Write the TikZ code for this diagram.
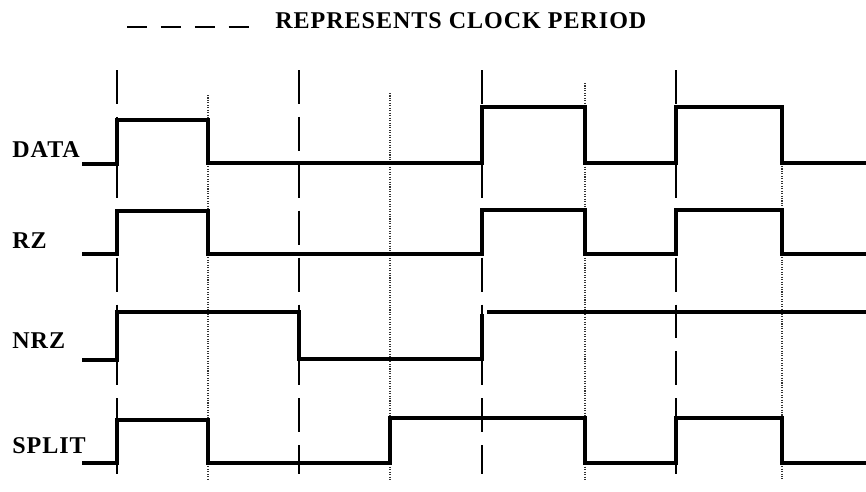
\documentclass[tikz,border=0pt]{standalone}
\usepackage{fontspec}
\setmainfont[LetterSpace=4]{Liberation Serif}

\begin{document}
\begin{tikzpicture}[
  x=0.02cm, y=-0.02cm,
  font=\fontsize{13.7}{16}\selectfont\bfseries,
  sig/.style={draw=black, line width=2.1pt},
  clk/.style={draw=black, line width=0.8pt, dash pattern=on 19.3pt off 7.4pt},
  half/.style={draw=black!80, line width=0.65pt, dash pattern=on 0.6pt off 0.8pt},
  legend/.style={draw=black, line width=1.3pt, dash pattern=on 11.3pt off 8pt},
  lbl/.style={anchor=base west, inner sep=0pt},
]
\useasboundingbox (0,0) rectangle (866,491);

%% Legend (top)
\coordinate (legL) at (127,27);
\coordinate (legR) at (250,27);
\draw[legend] (legL) -- (legR);
\node[lbl] (title) at (275,28) {REPRESENTS CLOCK PERIOD};

%% Clock periods (dashed) and half periods (dotted)
\foreach \x in {117,299,482,676}
  \draw[clk] (\x,70) -- (\x,474);
\foreach \x/\t in {208/95,390/93,585/83,782/107}
  \draw[half] (\x,\t) -- (\x,480);

%% Signal names
\node[lbl] (data)  at (12,157) {DATA};
\node[lbl] (rz)    at (12,248) {RZ};
\node[lbl] (nrz)   at (12,348) {NRZ};
\node[lbl] (split) at (12,453) {SPLIT};

%% Waveforms
\draw[sig] (82,164) -- (117,164) -- (117,120) -- (208,120) -- (208,163)
  -- (482,163) -- (482,107) -- (585,107) -- (585,163) -- (676,163)
  -- (676,107) -- (782,107) -- (782,163) -- (866,163);
\draw[sig] (82,254) -- (117,254) -- (117,211) -- (208,211) -- (208,254)
  -- (482,254) -- (482,210) -- (585,210) -- (585,254) -- (676,254)
  -- (676,210) -- (782,210) -- (782,254) -- (866,254);
\draw[sig] (82,360) -- (117,360) -- (117,312) -- (299,312) -- (299,359)
  -- (482,359) -- (482,314);
\draw[sig] (487,312) -- (866,312);
\draw[sig] (82,463) -- (117,463) -- (117,420) -- (208,420) -- (208,463)
  -- (390,463) -- (390,418) -- (585,418) -- (585,463) -- (676,463)
  -- (676,418) -- (782,418) -- (782,463) -- (866,463);

\end{tikzpicture}
\end{document}
